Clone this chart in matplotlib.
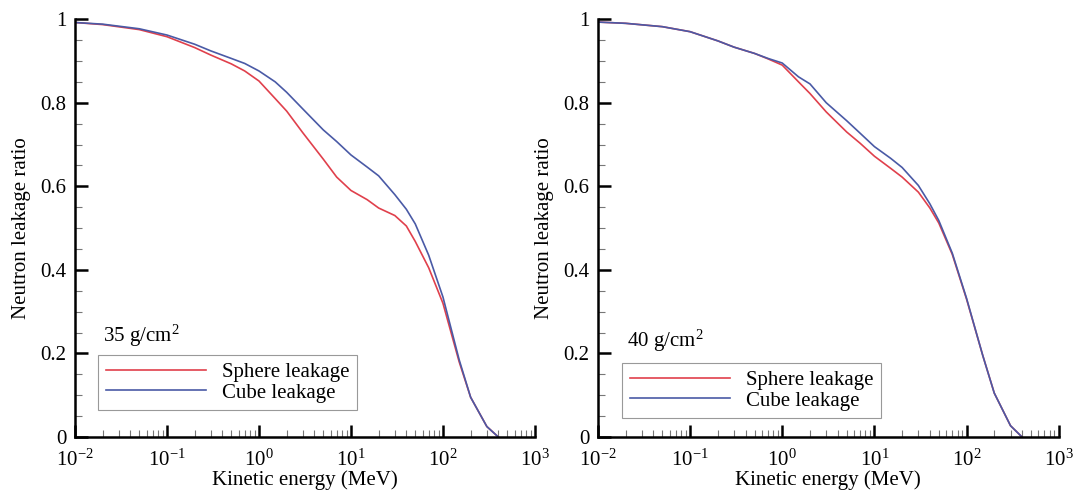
import numpy as np
import matplotlib
matplotlib.use('Agg')
import matplotlib.pyplot as plt
from matplotlib.ticker import LogLocator, MultipleLocator, FixedLocator

plt.rcParams['font.family'] = ['Liberation Serif', 'DejaVu Serif']
plt.rcParams['mathtext.fontset'] = 'custom'
plt.rcParams['mathtext.rm'] = 'Liberation Serif'
plt.rcParams['mathtext.it'] = 'Liberation Serif:italic'
plt.rcParams['axes.unicode_minus'] = False

# kinetic energy grid (MeV)
energy = [0.01, 0.02, 0.05, 0.1, 0.2, 0.3, 0.5, 0.7, 1, 1.5, 2, 3, 5, 7,
          10, 15, 20, 30, 40, 50, 70, 100, 150, 200, 300, 400]

# 35 g/cm2 panel
sphere_35 = [0.992, 0.987, 0.975, 0.958, 0.932, 0.914, 0.893, 0.876, 0.852,
             0.810, 0.780, 0.728, 0.665, 0.622, 0.590, 0.568, 0.548, 0.530,
             0.505, 0.468, 0.405, 0.320, 0.180, 0.095, 0.025, 0.0]
cube_35 = [0.992, 0.988, 0.977, 0.962, 0.940, 0.924, 0.906, 0.894, 0.876,
           0.850, 0.825, 0.785, 0.735, 0.707, 0.675, 0.646, 0.625, 0.580,
           0.545, 0.510, 0.435, 0.335, 0.185, 0.095, 0.025, 0.0]

# 40 g/cm2 panel
sphere_40 = [0.993, 0.990, 0.982, 0.970, 0.948, 0.933, 0.918, 0.905, 0.890,
             0.850, 0.822, 0.778, 0.730, 0.703, 0.672, 0.643, 0.622, 0.586,
             0.548, 0.512, 0.437, 0.330, 0.195, 0.105, 0.027, 0.0]
cube_40 = [0.993, 0.990, 0.982, 0.970, 0.948, 0.933, 0.918, 0.906, 0.895,
           0.862, 0.845, 0.800, 0.757, 0.727, 0.695, 0.667, 0.645, 0.602,
           0.558, 0.518, 0.440, 0.332, 0.195, 0.105, 0.027, 0.0]

yticks = [0, 0.2, 0.4, 0.6, 0.8, 1]
ytick_labels = ['0', '0.2', '0.4', '0.6', '0.8', '1']

RED = '#e0404c'
BLUE = '#4a5aa6'

fig = plt.figure(figsize=(10.77, 4.91), dpi=100)
ax1 = fig.add_axes([0.0696, 0.110, 0.4271, 0.851])
ax2 = fig.add_axes([0.5552, 0.110, 0.4278, 0.851])

panels = [
    (ax1, sphere_35, cube_35, '35 g/cm$^2$', (0.061, 0.228), (0.051, 0.196)),
    (ax2, sphere_40, cube_40, '40 g/cm$^2$', (0.063, 0.215), (0.053, 0.177)),
]

for ax, sph, cub, label, txt_pos, leg_pos in panels:
    ax.plot(energy, sph, color=RED, lw=1.2, label='Sphere leakage')
    ax.plot(energy, cub, color=BLUE, lw=1.2, label='Cube leakage')
    ax.set_xscale('log')
    ax.set_xlim(1e-2, 1e3)
    ax.set_ylim(0, 1)
    ax.xaxis.set_major_locator(LogLocator(base=10, numticks=10))
    ax.xaxis.set_minor_locator(LogLocator(base=10, subs=np.arange(2, 10), numticks=20))
    ax.yaxis.set_major_locator(FixedLocator(yticks))
    ax.set_yticklabels(ytick_labels)
    ax.yaxis.set_minor_locator(MultipleLocator(0.05))

    for s in ['top', 'right']:
        ax.spines[s].set_visible(False)
    for s in ['left', 'bottom']:
        ax.spines[s].set_linewidth(1.8)

    ax.tick_params(which='major', direction='in', length=9, width=1.8,
                   labelsize=15, pad=6)
    ax.tick_params(axis='x', which='major', pad=9)
    ax.tick_params(which='minor', direction='in', length=5, width=0.8,
                   color='#777777')

    ax.set_xlabel('Kinetic energy (MeV)', fontsize=15, labelpad=0)
    ax.set_ylabel('Neutron leakage ratio', fontsize=15, labelpad=7)

    ax.text(txt_pos[0], txt_pos[1], label, transform=ax.transAxes,
            fontsize=15, va='baseline', ha='left')
    leg = ax.legend(loc='upper left', bbox_to_anchor=leg_pos, borderaxespad=0,
                    fontsize=15, handlelength=4.8, handletextpad=0.8,
                    labelspacing=0.05, borderpad=0.35, fancybox=False,
                    framealpha=1, edgecolor='#999999')
    leg.get_frame().set_linewidth(0.8)

fig.savefig('out.png', dpi=100)
